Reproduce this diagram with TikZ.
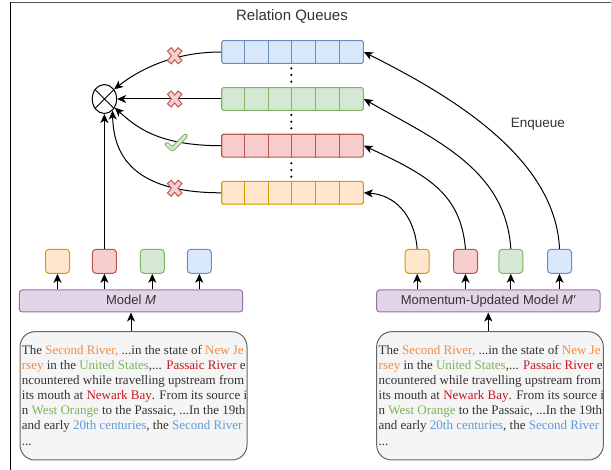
\documentclass[tikz,border=0pt]{standalone}
\usepackage{fontspec}
\setmainfont{Liberation Serif}
\newfontfamily\arialf{Liberation Sans}
\usetikzlibrary{arrows.meta,shapes.geometric}
\definecolor{bF}{HTML}{DAE8FC}\definecolor{bS}{HTML}{6C8EBF}
\definecolor{gF}{HTML}{D5E8D4}\definecolor{gS}{HTML}{82B366}
\definecolor{rF}{HTML}{F8CECC}\definecolor{rS}{HTML}{B85450}
\definecolor{oF}{HTML}{FFE6CC}\definecolor{oS}{HTML}{D79B00}
\definecolor{pF}{HTML}{E1D5E7}\definecolor{pS}{HTML}{9673A6}
\definecolor{tF}{HTML}{F5F5F5}\definecolor{tS}{HTML}{666666}
\definecolor{txt}{HTML}{333333}
\definecolor{oT}{RGB}{242,140,70}
\definecolor{gT}{RGB}{125,180,90}
\definecolor{rT}{RGB}{204,20,30}
\definecolor{bT}{RGB}{95,155,215}
\definecolor{frameT}{HTML}{555555}
\newcommand\riverpassage{\rule{0pt}{10pt}The \textcolor{oT}{Second River,} ...in the state of \textcolor{oT}{New Je}\\
\textcolor{oT}{rsey} in the \textcolor{gT}{United States},... \textcolor{rT}{Passaic River} e\\
ncountered while travelling upstream from\\
its mouth at \textcolor{rT}{Newark Bay}. From its source i\\
n \textcolor{gT}{West Orange} to the Passaic, ...In the 19th\\
and early \textcolor{bT}{20th centuries}, the \textcolor{bT}{Second River}\\
...}
\tikzset{
  xmk/.pic={
    \draw[line width=6pt,rS] (-5.6,-6.8)--(5.6,6.8);
    \draw[line width=6pt,rS] (-5.6,6.8)--(5.6,-6.8);
    \draw[line width=3.8pt,rF,shorten <=1.1pt,shorten >=1.1pt] (-5.6,-6.8)--(5.6,6.8);
    \draw[line width=3.8pt,rF,shorten <=1.1pt,shorten >=1.1pt] (-5.6,6.8)--(5.6,-6.8);
  },
  chk/.pic={
    \draw[line width=4.6pt,gS,line cap=round,line join=round] (-8.5,1.5)--(-3,6)--(10,-7);
    \draw[line width=2.8pt,gF,line cap=round,line join=round] (-8.5,1.5)--(-3,6)--(10,-7);
  }
}
\begin{document}
\begin{tikzpicture}[x=1pt,y=-1pt,
  arr/.style={-{Stealth[length=9pt,width=8pt,inset=2.5pt]},line width=1pt,black},
  qbox/.style={draw=#1S,fill=#1F,line width=1.1pt,minimum width=141.6pt,minimum height=22.8pt,rounded corners=1.5pt,inner sep=0pt},
  sbox/.style={draw=#1S,fill=#1F,line width=1pt,minimum width=24pt,minimum height=24pt,rounded corners=3.5pt,inner sep=0pt},
  modelbox/.style={draw=pS,fill=pF,line width=1pt,minimum width=223.4pt,minimum height=22pt,rounded corners=3pt,inner sep=0pt,font=\arialf\fontsize{13}{15}\selectfont,text=txt,text height=9.3pt,text depth=2pt},
  tbox/.style={draw=tS,fill=tF,line width=1pt,minimum width=227pt,minimum height=128.3pt,rounded corners=15pt},
  passage/.style={anchor=north west,inner sep=0pt,align=left,text=txt,font=\fontsize{13}{15.1}\selectfont},
  lbl/.style={inner sep=0pt,text=txt,font=\arialf\fontsize{13.5}{16}\selectfont}
]
\useasboundingbox (0,0) rectangle (611,470);
% frame
\draw[line width=1.2pt,frameT] (10.6,2.7) -- (611,2.7);
\draw[line width=1.2pt,black] (10.6,470) -- (10.6,2.1);
% title
\node[lbl,font=\arialf\fontsize{15}{18}\selectfont,anchor=base] (title) at (292,20.3) {Relation Queues};
% queues
\node[qbox=b] (qb) at (292.5,52) {};
\node[qbox=g] (qg) at (292.5,99) {};
\node[qbox=r] (qr) at (292.5,145.7) {};
\node[qbox=o] (qo) at (292.5,192.8) {};
\foreach \q/\c in {qb/bS,qg/gS,qr/rS,qo/oS}
  \foreach \k in {1,...,5}
    \draw[\c,line width=1pt] ([xshift=\k*23.6pt]\q.north west) -- ([xshift=\k*23.6pt]\q.south west);
\foreach \y in {68.3,75,81.7,115,121.7,128.3,163.3,170,176.7}
  \fill (291.3,\y) circle (1.2pt);
% otimes
\node[ellipse,draw,line width=1pt,minimum width=24.4pt,minimum height=29pt,inner sep=0pt] (ot) at (104.4,99) {};
\draw[line width=0.9pt] (ot.45) -- (ot.225) (ot.135) -- (ot.315);
% small boxes
\node[sbox=o] (lb1) at (57.5,261.3) {};
\node[sbox=r] (lb2) at (104.4,261.3) {};
\node[sbox=g] (lb3) at (152.3,261.3) {};
\node[sbox=b] (lb4) at (199.3,261.3) {};
\node[sbox=o] (rb1) at (417.2,261.3) {};
\node[sbox=r] (rb2) at (465.5,261.3) {};
\node[sbox=g] (rb3) at (510.8,261.3) {};
\node[sbox=b] (rb4) at (559.5,261.3) {};
% models
\node[modelbox] (mm) at (131,301) {Model \textit{M}};
\node[modelbox] (mp) at (488.3,301) {Momentum-Updated Model \textit{M′}};
% text boxes
\node[tbox] (tl) at (133.5,395.85) {};
\node[tbox,minimum width=226.6pt] (tr) at (490,395.85) {};
\node[passage] (pl) at (21.7,344.3) {\riverpassage};
\node[passage] (pr) at (378.5,344.3) {\riverpassage};
% arrows model -> boxes
\foreach \b in {lb1,lb2,lb3,lb4}
  \draw[arr] (\b.south |- mm.north) -- (\b.south);
\foreach \b in {rb1,rb2,rb3,rb4}
  \draw[arr] (\b.south |- mp.north) -- (\b.south);
\draw[arr] (mm.south |- tl.north) -- (mm.south);
\draw[arr] (mp.south |- tr.north) -- (mp.south);
\draw[arr] (lb2.north) -- (ot.south);
% queues -> otimes
\draw[arr] (qb.west) .. controls +(-50,0) and +(23,-18) .. (ot.45);
\draw[arr] (qg.west) -- (ot.east);
\draw[arr] (qr.west) .. controls +(-62,0) and +(22,20) .. (ot.-40);
\draw[arr] (qo.west) .. controls +(-92,0) and +(1,41) .. (ot.-55);
% enqueue
\draw[arr] (rb4.north) .. controls +(-4,-90) and +(90,45) .. (qb.east);
\draw[arr] (rb3.north) .. controls +(-5,-80) and +(70,40) .. (qg.east);
\draw[arr] (rb2.north) .. controls +(-5,-55) and +(65,30) .. (qr.east);
\draw[arr] (rb1.north) .. controls +(-3,-35) and +(30,2) .. (qo.east);
\node[lbl,anchor=base west] (enq) at (510.7,127.3) {Enqueue};
% marks
\pic at (174.7,55.8) {xmk};
\pic at (174.7,99) {xmk};
\pic at (175.5,143) {chk};
\pic at (174.7,188.3) {xmk};
\end{tikzpicture}
\end{document}
